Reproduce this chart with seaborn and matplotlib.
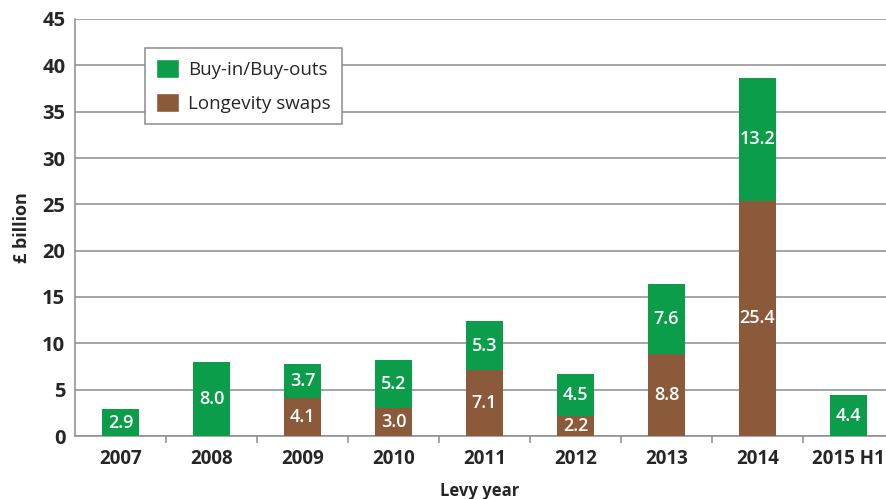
import matplotlib
matplotlib.use("Agg")
import matplotlib.pyplot as plt
import pandas as pd
import seaborn as sns
from matplotlib.patches import Patch

years = ["2007", "2008", "2009", "2010", "2011", "2012", "2013", "2014", "2015 H1"]
buyins = [2.9, 8.0, 3.7, 5.2, 5.3, 4.5, 7.6, 13.2, 4.4]
longevity = [0.0, 0.0, 4.1, 3.0, 7.1, 2.2, 8.8, 25.4, 0.0]

GREEN = "#0c9d4a"
BROWN = "#8a5a3b"
GREY = "#8c8c8c"

sns.set_theme(style="white")
plt.rcParams["font.family"] = ["Open Sans", "DejaVu Sans"]

df = pd.DataFrame({"year": years, "buyin": buyins, "longevity": longevity})
df["total"] = df["buyin"] + df["longevity"]

fig = plt.figure(figsize=(8.86, 4.99), dpi=100)
ax = fig.add_axes([75 / 886, 63 / 499, 819 / 886, 417 / 499])

sns.barplot(df, x="year", y="total", color=GREEN, width=0.4, saturation=1, linewidth=0, ax=ax, zorder=3)
sns.barplot(df, x="year", y="longevity", color=BROWN, width=0.4, saturation=1, linewidth=0, ax=ax, zorder=3)

for i, row in df.iterrows():
    if row["longevity"] > 0:
        ax.text(i, row["longevity"] / 2, f"{row['longevity']:.1f}", ha="center", va="center",
                color="white", fontsize=13, fontweight="semibold", zorder=4)
    if row["buyin"] > 0:
        ax.text(i, row["longevity"] + row["buyin"] / 2, f"{row['buyin']:.1f}", ha="center", va="center",
                color="white", fontsize=13, fontweight="semibold", zorder=4)

ax.set_ylim(0, 45)
ax.set_xlim(-0.5, 8.5)
ax.set_yticks(range(0, 46, 5))
ax.yaxis.grid(True, color=GREY, linewidth=1.1, zorder=0)
ax.set_axisbelow(True)
for side in ["top", "right"]:
    ax.spines[side].set_visible(False)
for side in ["left", "bottom"]:
    ax.spines[side].set_color(GREY)
    ax.spines[side].set_linewidth(1.1)

# tick marks between categories, labels at centres
ax.set_xticks([i + 0.5 for i in range(len(years))], minor=True)
ax.tick_params(axis="x", which="minor", length=5, color=GREY, width=1.1, bottom=True)
ax.tick_params(axis="x", which="major", length=0, pad=9, labelsize=13.5)
ax.tick_params(axis="y", length=0, pad=7, labelsize=14.5)
for lab in ax.get_xticklabels() + ax.get_yticklabels():
    lab.set_fontweight("bold")

ax.set_xlabel("Levy year", fontsize=12, fontweight="bold", labelpad=6)
ax.set_ylabel("£ billion", fontsize=13, fontweight="bold", labelpad=8)
ax.xaxis.set_label_coords(405 / 819, -0.11)

handles = [Patch(facecolor=GREEN, label="Buy-in/Buy-outs"),
           Patch(facecolor=BROWN, label="Longevity swaps")]
leg = ax.legend(handles=handles, loc="upper left", bbox_to_anchor=(70 / 819, 1 - 29 / 417),
                fontsize=13.5, frameon=True, fancybox=False, framealpha=1,
                handlelength=1.2, handleheight=1.2, handletextpad=0.5,
                borderpad=0.6, labelspacing=0.75, borderaxespad=0)
leg.get_frame().set_edgecolor(GREY)
leg.get_frame().set_linewidth(1.1)

fig.savefig("out.png", dpi=100)
